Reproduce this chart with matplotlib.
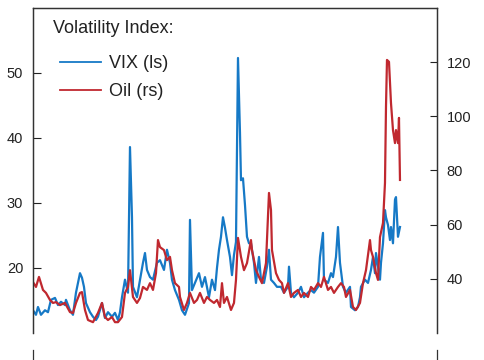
import matplotlib
matplotlib.use('Agg')
import matplotlib.pyplot as plt

plt.rcParams['font.family'] = ['Liberation Sans', 'DejaVu Sans']

# weekly position along the (unlabelled) time axis
vix_t = [0, 3, 5, 8, 12, 15, 18, 22, 25, 28, 32, 33, 37, 40, 43, 47, 49, 51, 53, 57,
         60, 63, 65, 69, 72, 75, 79, 82, 85, 87, 89, 92, 95, 97, 99, 100, 104, 107,
         110, 112, 114, 117, 120, 124, 127, 131, 134, 137, 139, 142, 146, 149, 152,
         156, 157, 159, 162, 166, 169, 172, 176, 179, 182, 184, 186, 188, 190, 192,
         194, 197, 199, 201, 203, 205, 207, 208, 210, 212, 214, 216, 218, 221, 223,
         226, 228, 231, 234, 236, 238, 241, 244, 248, 251, 255, 256, 258, 261, 265,
         268, 271, 275, 278, 281, 285, 287, 290, 291, 295, 298, 300, 303, 305, 307,
         310, 313, 317, 318, 322, 325, 327, 328, 332, 335, 338, 340, 342, 343, 347,
         348, 350, 352, 353, 355, 357, 358, 360, 362, 363, 365, 367]
vix = [13.5, 12.8, 14.0, 12.8, 13.5, 13.2, 15.1, 15.4, 14.3, 14.8, 14.3, 15.1, 13.5,
       12.8, 16.2, 19.2, 18.5, 17.1, 14.6, 13.2, 12.5, 12.0, 12.5, 14.6, 12.3, 13.2,
       12.5, 13.1, 12.0, 13.2, 15.5, 18.2, 16.2, 38.6, 27.8, 17.1, 15.5, 18.2, 20.8,
       22.3, 19.7, 18.6, 18.2, 20.8, 21.2, 19.7, 22.8, 20.8, 18.2, 16.6, 15.1, 13.5,
       12.8, 14.6, 27.4, 16.6, 17.7, 19.2, 17.1, 18.6, 15.5, 18.2, 16.6, 20.0, 22.8,
       24.8, 27.8, 26.2, 24.3, 21.7, 18.9, 22.0, 24.0, 52.3, 40.8, 33.5, 33.8, 29.7,
       24.8, 23.8, 23.8, 20.8, 17.7, 21.7, 18.2, 17.7, 20.2, 22.8, 18.2, 17.7, 17.1,
       17.1, 16.2, 17.1, 20.2, 16.2, 15.5, 16.2, 17.1, 15.5, 16.2, 16.6, 16.2, 17.1,
       21.7, 25.4, 18.2, 17.7, 19.2, 18.6, 21.7, 26.3, 20.8, 17.1, 16.2, 17.1, 14.0,
       13.5, 14.0, 15.5, 17.1, 18.2, 17.7, 19.7, 21.7, 19.2, 22.3, 18.2, 20.8, 23.8,
       28.9, 27.8, 26.6, 24.3, 26.3, 23.8, 30.5, 30.9, 24.8, 26.3]

oil_t = [0, 3, 6, 10, 13, 17, 20, 23, 27, 32, 37, 40, 43, 47, 49, 52, 55, 60, 65, 69,
         72, 75, 79, 82, 85, 89, 92, 95, 97, 100, 104, 107, 110, 114, 117, 120, 123,
         125, 127, 131, 134, 137, 139, 142, 146, 147, 151, 154, 157, 161, 164, 167,
         171, 174, 177, 181, 184, 187, 189, 191, 194, 198, 201, 203, 205, 208, 211,
         214, 218, 219, 223, 226, 229, 233, 236, 238, 239, 243, 246, 249, 251, 255,
         258, 261, 265, 268, 271, 275, 278, 281, 285, 288, 291, 295, 298, 301, 305,
         308, 311, 313, 317, 320, 323, 327, 330, 333, 337, 338, 340, 343, 345, 347,
         350, 352, 353, 354, 356, 358, 360, 362, 363, 365, 366, 367]
oil = [38.8, 37.0, 40.7, 35.9, 34.8, 32.2, 31.1, 31.4, 30.3, 31.1, 27.7, 27.4, 31.1,
       34.8, 35.1, 28.5, 24.8, 24.0, 27.4, 31.1, 25.9, 24.8, 25.9, 24.0, 24.0, 25.9,
       34.8, 37.0, 43.2, 33.3, 31.1, 32.9, 37.0, 35.9, 38.4, 35.9, 42.1, 54.3, 51.7,
       50.6, 46.9, 48.1, 43.2, 38.4, 37.0, 33.3, 28.5, 31.1, 34.8, 31.1, 32.2, 34.8,
       31.1, 33.3, 32.2, 31.1, 32.2, 29.6, 38.4, 31.1, 33.3, 28.5, 31.1, 39.6, 55.1,
       48.1, 43.2, 45.8, 54.3, 50.6, 43.2, 40.7, 38.4, 45.8, 71.7, 65.4, 50.6, 42.1,
       39.6, 38.4, 34.8, 38.4, 33.3, 34.8, 35.9, 33.3, 34.8, 33.3, 37.0, 35.9, 38.4,
       37.0, 40.7, 35.9, 37.0, 34.8, 37.0, 38.4, 37.0, 33.3, 35.9, 29.6, 28.5, 31.1,
       38.4, 43.2, 54.3, 50.6, 48.1, 42.1, 39.6, 55.4, 60.6, 75.4, 103.4, 120.8,
       120.1, 104.9, 94.9, 90.1, 94.9, 90.1, 99.4, 76.5]

left_ticks = [20, 30, 40, 50]
right_ticks = [40, 60, 80, 100, 120]

blue = '#1679c6'
red = '#c0282f'

fig = plt.figure(figsize=(4.85, 3.6), dpi=100)
ax = fig.add_axes([0.068, 0.075, 0.833, 0.903])
ax2 = ax.twinx()

l1, = ax.plot(vix_t, vix, color=blue, lw=1.6, label='VIX (ls)')
l2, = ax2.plot(oil_t, oil, color=red, lw=1.6, label='Oil (rs)')

ax.set_xlim(0, 404)
ax.set_ylim(10, 60)
ax2.set_ylim(20, 140)
ax.set_yticks(left_ticks)
ax2.set_yticks(right_ticks)
ax.set_xticks([])

for a in (ax, ax2):
    a.spines['bottom'].set_visible(False)
    for s in a.spines.values():
        s.set_color('#333333')
        s.set_linewidth(0.9)
ax.tick_params(axis='y', direction='in', length=6, width=0.8, pad=7,
               labelsize=10.5, colors='#222222')
ax2.tick_params(axis='y', direction='in', length=5, width=0.8, pad=7,
                labelsize=10.5, colors='#222222')

ax.text(0.05, 0.963, 'Volatility Index:', transform=ax.transAxes,
        ha='left', va='top', fontsize=13, color='#222222')
ax2.legend([l1, l2], ['VIX (ls)', 'Oil (rs)'], loc='upper left',
           bbox_to_anchor=(0.067, 0.855), frameon=False, fontsize=13,
           handlelength=2.25, handletextpad=0.45, labelspacing=0.62,
           borderpad=0, borderaxespad=0, labelcolor='#222222')
for h in ax2.get_legend().get_lines():
    h.set_linewidth(1.3)

# top of the panel below, cut off by the image edge
low = fig.add_axes([0.068, -0.5, 0.833, 0.528])
low.set_facecolor('none')
low.set_xticks([])
low.set_yticks([])
for k in ('top', 'bottom'):
    low.spines[k].set_visible(False)
for k in ('left', 'right'):
    low.spines[k].set_color('#333333')
    low.spines[k].set_linewidth(0.9)

fig.savefig('out.png', dpi=100)
